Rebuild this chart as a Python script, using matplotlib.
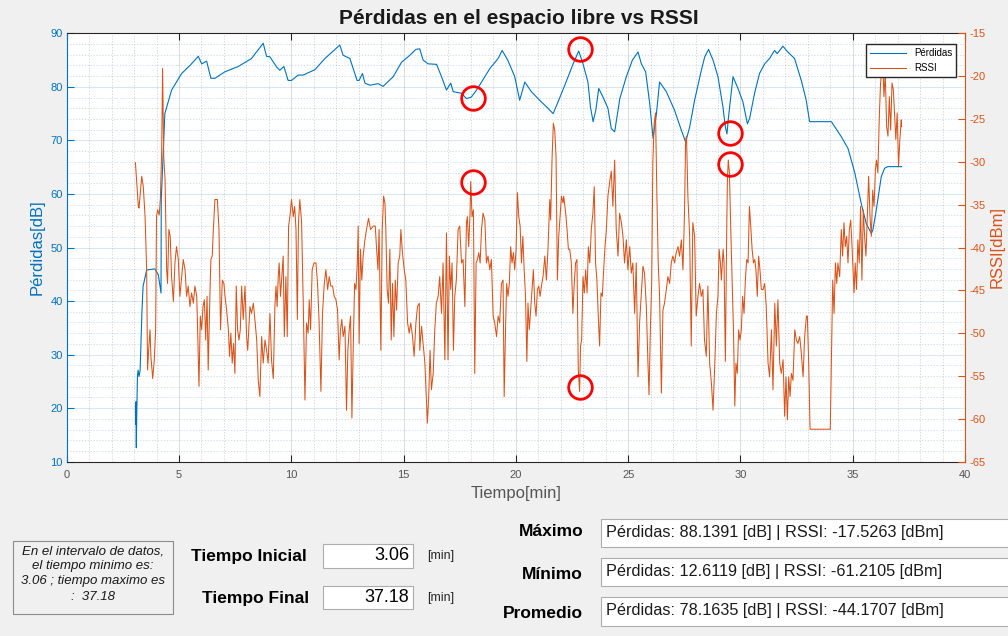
import matplotlib.pyplot as plt
from matplotlib.patches import Rectangle
from matplotlib.ticker import MultipleLocator

plt.rcParams['font.family'] = ['Liberation Sans', 'DejaVu Sans']
plt.rcParams['axes.unicode_minus'] = False

# Pérdidas en el espacio libre [dB] vs tiempo [min]
perd_t = [3.06, 3.07, 3.08, 3.10, 3.12, 3.15, 3.18, 3.22, 3.27, 3.35, 3.40, 3.56,
          3.93, 4.08, 4.20, 4.21, 4.37, 4.67, 5.12, 5.49, 5.86, 6.01, 6.23, 6.42,
          6.60, 7.04, 7.64, 8.23, 8.75, 8.90, 9.05, 9.35, 9.49, 9.67, 9.86, 10.01,
          10.31, 10.53, 11.05, 11.50, 12.16, 12.31, 12.61, 12.93, 13.02, 13.17,
          13.28, 13.50, 13.87, 14.09, 14.54, 14.91, 15.28, 15.55, 15.72, 15.87,
          16.09, 16.47, 16.69, 16.91, 17.10, 17.21, 17.58, 17.80, 18.02, 18.25,
          18.84, 19.21, 19.39, 19.65, 19.95, 20.17, 20.40, 20.69, 21.06, 21.43,
          21.66, 21.88, 22.18, 22.55, 22.80, 22.99, 23.21, 23.32, 23.44, 23.56,
          23.69, 23.88, 24.10, 24.25, 24.40, 24.63, 24.92, 25.19, 25.44, 25.59,
          25.78, 25.96, 26.11, 26.26, 26.40, 26.70, 27.07, 27.37, 27.56, 27.74,
          27.96, 28.26, 28.41, 28.58, 28.78, 29.00, 29.22, 29.33, 29.40, 29.47,
          29.67, 29.89, 30.11, 30.31, 30.41, 30.63, 30.85, 31.08, 31.30, 31.52,
          31.64, 31.89, 32.11, 32.41, 32.71, 32.93, 33.08, 34.05, 34.49, 34.79,
          35.09, 35.38, 35.60, 35.83, 35.90, 36.05, 36.27, 36.42, 36.56, 37.18]
perd_v = [20.5, 17.0, 21.2, 12.61, 19.0, 26.0, 27.1, 25.9, 27.1, 38.0, 42.7, 45.8,
          46.0, 44.9, 41.5, 58.9, 75.0, 79.4, 82.5, 84.0, 85.7, 84.3, 84.8, 81.6,
          81.6, 82.8, 83.8, 85.3, 88.14, 85.7, 85.6, 83.7, 83.1, 83.8, 81.2, 81.2,
          82.2, 82.2, 83.2, 85.3, 87.8, 85.9, 85.3, 81.2, 81.2, 82.5,
          80.7, 80.3, 80.6, 80.1, 81.9, 84.6, 85.9, 87.0, 87.1, 85.0,
          84.3, 84.2, 81.9, 79.4, 80.7, 79.1, 78.8, 77.8, 78.1, 79.4,
          83.4, 85.3, 86.8, 84.9, 81.9, 77.5, 80.9, 79.1, 77.5, 76.0,
          75.0, 77.2, 80.3, 84.3, 86.7, 84.3, 80.9, 76.3, 73.5, 75.6,
          79.7, 78.1, 76.0, 72.2, 71.6, 77.8, 81.9, 85.0, 86.5, 84.3,
          82.8, 76.9, 70.4, 75.0, 80.9, 79.1, 75.6, 71.9, 69.7, 72.5,
          77.5, 83.1, 85.6, 87.0, 85.0, 81.9, 76.3, 72.5, 71.2, 74.4,
          81.9, 79.7, 77.2, 73.1, 74.1, 78.8, 82.5, 84.3, 85.3, 86.8,
          86.2, 87.6, 86.5, 85.3, 81.2, 77.5, 73.5, 73.5, 70.7, 68.5,
          64.0, 58.2, 54.5, 52.6, 53.3, 57.0, 63.2, 64.8, 65.1, 65.1]

# RSSI [dBm] vs tiempo [min]
rssi_t = [3.06, 3.19, 3.22, 3.34, 3.41, 3.49, 3.56, 3.60, 3.66, 3.71, 3.75, 3.83,
          3.90, 3.96, 4.00, 4.05, 4.12, 4.17, 4.23, 4.27, 4.32, 4.38, 4.45, 4.49,
          4.55, 4.61, 4.67, 4.75, 4.82, 4.89, 4.97, 5.04, 5.12, 5.19, 5.27, 5.34,
          5.41, 5.49, 5.56, 5.64, 5.71, 5.79, 5.83, 5.89, 5.95, 6.01, 6.07, 6.13,
          6.19, 6.25, 6.30, 6.38, 6.42, 6.48, 6.53, 6.60, 6.71, 6.78, 6.85, 6.93,
          7.00, 7.05, 7.12, 7.20, 7.25, 7.31, 7.37, 7.43, 7.49, 7.55, 7.61, 7.67,
          7.73, 7.79, 7.86, 7.94, 8.01, 8.06, 8.16, 8.23, 8.31, 8.38, 8.46, 8.53,
          8.60, 8.68, 8.75, 8.83, 8.90, 8.97, 9.05,
          9.12, 9.20, 9.27, 9.32, 9.37, 9.42, 9.46, 9.52, 9.58, 9.64, 9.69, 9.76,
          9.82, 9.88, 9.94, 10.01, 10.09, 10.15, 10.21, 10.27, 10.32, 10.38, 10.46,
          10.53, 10.61, 10.68, 10.75, 10.80, 10.86, 10.93, 11.01, 11.10, 11.17,
          11.24, 11.32, 11.39, 11.47, 11.54, 11.62, 11.69, 11.76, 11.84, 11.91,
          11.99, 12.06, 12.13, 12.19, 12.25, 12.31, 12.39, 12.46, 12.52, 12.58,
          12.64, 12.70, 12.76, 12.82, 12.88, 12.94, 12.98, 13.02, 13.08, 13.14,
          13.20, 13.28, 13.35, 13.44, 13.53, 13.65, 13.74, 13.80, 13.86, 13.91,
          13.99, 14.05, 14.11, 14.17, 14.21, 14.27, 14.33, 14.39, 14.45, 14.51,
          14.57, 14.63, 14.69, 14.76, 14.83, 14.88, 14.95, 15.03, 15.10, 15.18,
          15.25, 15.32, 15.40, 15.47, 15.55, 15.62, 15.70,
          15.72, 15.80, 15.87, 15.95, 16.02, 16.06, 16.12, 16.18, 16.24, 16.32,
          16.39, 16.46, 16.54, 16.61, 16.69, 16.76, 16.84, 16.91, 16.98, 17.04,
          17.10, 17.16, 17.22, 17.28, 17.35, 17.43, 17.50, 17.58, 17.65, 17.73,
          17.80, 17.84, 17.90, 17.96, 17.99, 18.05, 18.11, 18.17, 18.23, 18.29,
          18.35, 18.41, 18.47, 18.54, 18.62, 18.69, 18.76, 18.84, 18.91, 18.99,
          19.06, 19.14, 19.21, 19.28, 19.36, 19.43, 19.48, 19.54, 19.59, 19.65,
          19.71, 19.77, 19.83, 19.89, 19.95, 20.01, 20.07, 20.13, 20.19, 20.25,
          20.31, 20.37, 20.43, 20.49, 20.54, 20.60, 20.66, 20.72, 20.78, 20.84,
          20.90, 20.96, 21.02, 21.08, 21.14, 21.21, 21.29, 21.36, 21.43, 21.51,
          21.55, 21.61, 21.67, 21.73, 21.79, 21.85, 21.91, 21.97, 22.03, 22.10,
          22.13, 22.22, 22.28, 22.34, 22.40, 22.47, 22.54, 22.60, 22.66, 22.72,
          22.78, 22.84, 22.88, 22.93, 22.99, 23.05, 23.11, 23.17, 23.23, 23.29,
          23.36, 23.43, 23.49, 23.55, 23.61, 23.67, 23.73, 23.79, 23.85, 23.91,
          23.97, 24.03, 24.10, 24.18, 24.25, 24.32, 24.40, 24.47, 24.55, 24.62,
          24.70, 24.77, 24.84, 24.92, 24.99, 25.07, 25.14, 25.21, 25.29, 25.36,
          25.44, 25.51, 25.59, 25.66, 25.73, 25.81, 25.88, 25.93, 25.99, 26.05,
          26.10, 26.16, 26.22, 26.28, 26.34, 26.40, 26.48, 26.55, 26.62, 26.70,
          26.77, 26.85, 26.92, 26.99, 27.07, 27.14, 27.22, 27.29, 27.37, 27.44,
          27.51, 27.56, 27.60, 27.66, 27.74, 27.81, 27.88, 27.96, 28.03, 28.11,
          28.18, 28.26, 28.33, 28.40, 28.48, 28.55,
          28.63, 28.71, 28.78, 28.86, 28.93, 29.00, 29.05, 29.11, 29.15, 29.23,
          29.27, 29.33, 29.39, 29.42, 29.46, 29.51, 29.57, 29.63, 29.69, 29.75,
          29.80, 29.86, 29.92, 29.98, 30.04, 30.10, 30.16, 30.22, 30.28, 30.34,
          30.40, 30.46, 30.52, 30.58, 30.64, 30.69, 30.75, 30.81, 30.87, 30.93,
          31.01, 31.08, 31.15, 31.23, 31.30, 31.38, 31.45, 31.53, 31.60, 31.67,
          31.75, 31.82, 31.90, 31.97, 32.03, 32.09, 32.15, 32.21, 32.27, 32.34,
          32.42, 32.49, 32.56, 32.64, 32.71, 32.79, 32.86, 32.94, 32.98, 33.04,
          33.10, 34.00, 34.05, 34.11, 34.17, 34.23, 34.29, 34.34, 34.42, 34.49,
          34.55, 34.61, 34.67, 34.73, 34.79, 34.85, 34.91, 34.97,
          35.06, 35.11, 35.17, 35.23, 35.29, 35.35, 35.41, 35.47, 35.53, 35.59,
          35.65, 35.71, 35.77, 35.83, 35.89, 35.95, 36.01, 36.06, 36.12, 36.18,
          36.24, 36.30, 36.33, 36.39, 36.45, 36.51, 36.57, 36.63, 36.69, 36.75,
          36.81, 36.87, 36.92, 36.98, 37.04, 37.10, 37.16, 37.18]
rssi_v = [-30.1, -35.2, -35.4, -31.7, -32.9, -36.4, -42.6, -54.3, -51.5, -49.6, -52.7, -55.3,
          -53.1, -49.6, -36.4, -35.6, -36.2, -34.4, -28.6, -19.1, -29.4, -32.1, -42.6, -44.2,
          -37.9, -38.7, -43.4, -46.3, -41.8, -39.9, -41.4, -45.7, -43.4, -41.4, -42.6, -45.7,
          -44.5, -46.9, -45.3, -46.5, -44.5, -45.7, -49.6, -56.2, -48.0, -49.6, -46.9, -46.1,
          -50.8, -45.7, -54.3, -45.3, -41.4, -41.0, -37.9, -34.4, -34.4, -37.9, -49.6, -43.8,
          -44.2, -45.7, -47.3, -49.6, -52.7, -50.0, -53.5, -51.2, -54.7, -44.5, -49.6, -50.8,
          -49.6, -44.5, -48.4, -44.5, -50.4, -52.0, -46.9, -47.7, -46.5, -48.4, -50.8, -55.5,
          -57.4, -50.4, -53.5, -50.8, -52.0, -53.5, -47.7,
          -53.1, -55.3, -46.9, -44.5, -46.9, -43.4, -41.8, -45.7, -43.4, -41.0, -50.4, -43.4,
          -50.4, -37.5, -36.4, -34.4, -36.4, -35.2, -37.9, -48.4, -37.1, -34.4, -37.1,
          -46.1, -57.8, -48.8, -50.0, -46.1, -49.6, -42.6, -41.8, -41.8, -44.2,
          -48.8, -56.8, -47.7, -44.2, -42.6, -44.9, -43.4, -44.5, -44.5, -45.7,
          -46.1, -47.3, -53.1, -49.6, -48.4, -50.4, -49.2, -59.0, -52.0, -49.6,
          -48.0, -59.9, -51.5, -44.2, -44.9, -41.8, -37.5, -51.2, -40.2, -43.8,
          -41.0, -39.1, -37.9, -36.6, -37.9, -37.5, -37.5, -40.2, -42.6, -37.9,
          -52.0, -37.9, -34.0, -34.8, -37.9, -44.9, -46.5, -40.2, -50.8, -44.2,
          -50.4, -43.8, -47.3, -41.8, -41.0, -37.9, -40.6, -42.6, -43.8, -48.8,
          -50.0, -48.8, -50.4, -52.7, -48.8, -46.9, -46.5,
          -52.0, -49.2, -51.2, -53.5, -57.8, -60.5, -57.4, -52.0, -56.6, -54.7,
          -49.6, -46.5, -45.7, -43.4, -47.7, -41.8, -53.1, -38.3, -53.1, -41.0,
          -44.9, -41.8, -52.0, -45.7, -43.8, -37.9, -37.5, -41.8, -41.4, -46.9,
          -37.1, -36.4, -39.9, -36.0, -32.3, -36.4, -35.6, -54.7, -41.8, -41.4,
          -40.6, -41.8, -37.9, -36.0, -36.8, -41.8, -41.0, -42.6, -41.4, -48.0,
          -48.8, -50.4, -48.0, -48.8, -44.2, -43.8, -57.4, -49.6, -44.2, -45.7,
          -44.2, -39.9, -41.8, -40.6, -42.6, -40.2, -33.6, -36.4, -37.5, -41.8,
          -38.7, -42.6, -45.7, -53.3, -46.5, -49.6, -47.3, -44.9, -42.6, -46.5,
          -48.0, -44.9, -44.5, -45.7, -44.5, -43.4, -41.0, -43.8, -40.2, -34.4,
          -36.8, -29.8, -25.5, -26.3, -29.4, -43.8, -38.7, -36.4, -34.0, -34.8,
          -34.0, -36.0, -37.9, -40.2, -40.2, -41.8, -47.7, -44.2, -41.8, -41.4,
          -54.3, -56.8, -51.5, -50.8, -43.4, -45.3, -42.6, -45.3, -39.9, -41.8,
          -37.9, -36.0, -32.9, -41.8, -43.8, -48.0, -51.5, -45.3, -45.7, -42.6,
          -39.9, -37.9, -34.0, -32.3, -31.1, -35.2, -29.8, -37.9, -41.0, -36.0,
          -37.1, -38.7, -41.8, -39.1, -42.6, -39.9, -43.0, -41.8, -47.7, -41.8,
          -55.1, -48.8, -45.3, -42.2, -43.0, -46.9, -53.3, -57.2, -49.6, -43.8,
          -30.1, -25.5, -24.3, -34.0, -41.8, -45.7, -57.0, -47.3, -46.5, -44.9,
          -43.4, -44.2, -41.8, -41.0, -41.8, -40.6, -39.9, -41.0, -39.1, -42.6,
          -36.0, -27.4, -27.0, -34.0, -38.7, -51.5, -37.1, -38.7, -48.0, -45.7,
          -44.2, -45.7, -44.9, -50.8, -52.7, -44.5,
          -53.5, -55.9, -59.0, -53.5, -47.7, -45.7, -40.2, -41.8, -43.8, -40.2,
          -41.8, -53.3, -37.9, -32.1, -29.8, -31.3, -37.9, -43.8, -49.6, -58.5,
          -53.5, -54.7, -49.6, -50.8, -49.6, -45.7, -47.7, -43.8, -41.4, -41.8,
          -35.2, -37.5, -40.2, -41.8, -41.4, -42.6, -45.7, -41.0, -42.6, -44.9,
          -44.9, -44.2, -46.9, -53.5, -55.1, -49.6, -56.6, -46.5, -51.5, -46.1,
          -53.5, -54.7, -53.1, -59.7, -55.1, -60.1, -55.1, -57.4, -54.7, -55.5,
          -49.6, -50.8, -51.2, -50.4, -52.3, -55.1, -50.4, -48.0, -48.0, -53.5,
          -61.21, -61.21, -53.5, -43.8, -47.7, -41.8, -44.2, -41.8, -43.4, -37.9,
          -41.0, -37.1, -39.9, -38.7, -41.8, -37.9, -36.8, -39.9,
          -45.3, -41.8, -44.9, -39.1, -41.8, -35.2, -43.8, -35.6, -38.7, -41.0,
          -36.4, -31.7, -36.4, -38.7, -33.3, -35.2, -30.9, -29.8, -31.3, -25.1,
          -20.8, -19.3, -17.53, -22.4, -19.7, -25.9, -27.0, -22.4, -26.3, -20.8,
          -21.6, -24.7, -27.4, -24.3, -30.5, -27.4, -25.1, -25.9]

# puntos resaltados con circulos rojos
marca_perd_t = [18.10, 22.84, 29.52]
marca_perd_v = [77.9, 87.0, 71.3]
marca_rssi_t = [18.10, 22.84, 29.52]
marca_rssi_v = [-32.4, -56.3, -30.3]

AZUL = '#0072BD'
NARANJA = '#D95319'
GRIS = '#262626'
W, H = 1008, 636

fig = plt.figure(figsize=(W / 100, H / 100), dpi=100, facecolor='#f0f0f0')
ax = fig.add_axes([66.7 / W, 1 - 461.7 / H, (965 - 66.7) / W, (461.7 - 33.3) / H])
ax2 = ax.twinx()

l1, = ax.plot(perd_t, perd_v, color=AZUL, lw=0.8)
l2, = ax2.plot(rssi_t, rssi_v, color=NARANJA, lw=0.75)
ax2.plot(marca_perd_t, marca_perd_v, 'o', transform=ax.transData, ms=17,
         mfc='none', mec='#ff0000', mew=2.0)
ax2.plot(marca_rssi_t, marca_rssi_v, 'o', ms=17, mfc='none', mec='#ff0000', mew=2.0)

ax.set_xlim(0, 40)
ax.set_ylim(10, 90)
ax2.set_ylim(-65, -15)
ax.set_xticks(range(0, 41, 5))
ax.set_yticks(range(10, 91, 10))
ax2.set_yticks(range(-65, -14, 5))
ax.xaxis.set_minor_locator(MultipleLocator(1))
ax.yaxis.set_minor_locator(MultipleLocator(2))

ax.tick_params(axis='x', direction='in', length=5, top=True, labelsize=8,
               colors=GRIS, labelcolor='#555555', pad=6)
ax.tick_params(axis='y', direction='in', length=5, right=False, labelsize=8,
               colors=AZUL, pad=3)
ax.tick_params(which='minor', length=0)
ax2.tick_params(axis='y', direction='in', length=5, labelsize=8, colors=NARANJA, pad=3)

for s in ('top', 'bottom'):
    ax.spines[s].set_color(GRIS)
    ax2.spines[s].set_visible(False)
ax.spines['left'].set_color(AZUL)
ax.spines['right'].set_visible(False)
ax2.spines['left'].set_visible(False)
ax2.spines['right'].set_color(NARANJA)
for a in (ax, ax2):
    for s in a.spines.values():
        s.set_linewidth(0.8)

ax.set_axisbelow(True)
ax.grid(axis='x', which='major', color=GRIS, alpha=0.18, lw=0.6, ls='-')
ax.grid(axis='x', which='minor', color=GRIS, alpha=0.22, lw=0.6, ls=(0, (1.5, 2)))
ax.grid(axis='y', which='major', color=AZUL, alpha=0.2, lw=0.6, ls='-')
ax.grid(axis='y', which='minor', color=AZUL, alpha=0.25, lw=0.6, ls=(0, (1.5, 2)))

ax.set_xlabel('Tiempo[min]', fontsize=12, color='#555555', labelpad=4)
ax.set_ylabel('Pérdidas[dB]', fontsize=12, color=AZUL, labelpad=4)
ax2.set_ylabel('RSSI[dBm]', fontsize=12, color=NARANJA, labelpad=3)

ax2.legend([l1, l2], ['Pérdidas', 'RSSI'], loc='upper right',
           bbox_to_anchor=(0.990, 0.974), borderaxespad=0, fontsize=7,
           fancybox=False, framealpha=1, edgecolor=GRIS, handlelength=3.7)


def px(x, y):
    return x / W, 1 - y / H


def caja(x0, y0, x1, y1, fc='white', ec='#adadad'):
    fig.add_artist(Rectangle(px(x0, y1), (x1 - x0) / W, (y1 - y0) / H,
                             transform=fig.transFigure, fc=fc, ec=ec, lw=0.8))


def texto(x, y, s, **kw):
    fig.text(*px(x, y), s, va='center', **kw)


texto(519, 18, 'Pérdidas en el espacio libre vs RSSI', ha='center',
      fontsize=15, fontweight='bold', color='#1a1a1a')

# panel de informacion del intervalo
caja(12.7, 540.7, 172.7, 614.3, fc='#f0f0f0', ec='#8c8c8c')
for y, s in zip([552, 566.5, 581, 597],
                ['En el intervalo de datos,', 'el tiempo minimo es:',
                 '3.06 ; tiempo maximo es', ':  37.18']):
    texto(92.7, y, s, ha='center', fontsize=9.5, style='italic', color='#1a1a1a')

texto(307, 557, 'Tiempo Inicial', ha='right', fontsize=12.5, fontweight='bold')
texto(309, 598.5, 'Tiempo Final', ha='right', fontsize=12.5, fontweight='bold')
caja(322.7, 544, 412.7, 568.3)
caja(322.7, 586, 413.3, 609.3)
texto(409, 556, '3.06', ha='right', fontsize=13)
texto(409, 597.5, '37.18', ha='right', fontsize=13)
texto(427, 556, '[min]', ha='left', fontsize=9, color=GRIS)
texto(427, 598, '[min]', ha='left', fontsize=9, color=GRIS)

for y, lab, y0, y1, s in [
        (531.5, 'Máximo', 519.3, 546.7, 'Pérdidas: 88.1391 [dB] | RSSI: -17.5263 [dBm]'),
        (574.5, 'Mínimo', 558.3, 586.0, 'Pérdidas: 12.6119 [dB] | RSSI: -61.2105 [dBm]'),
        (613, 'Promedio', 596.7, 626.0, 'Pérdidas: 78.1635 [dB] | RSSI: -44.1707 [dBm]')]:
    texto(583, y, lab, ha='right', fontsize=12.5, fontweight='bold')
    caja(600.7, y0, 1012, y1)
    texto(606, (y0 + y1) / 2 - 1, s, ha='left', fontsize=11.7, color='#1a1a1a')

fig.savefig('out.png', dpi=100, facecolor=fig.get_facecolor())
